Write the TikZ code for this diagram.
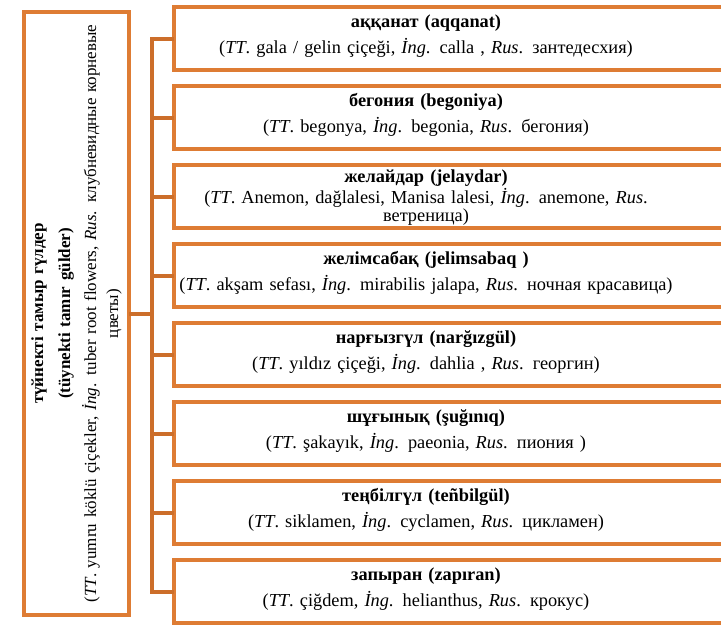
\documentclass[tikz,border=0pt]{standalone}
\usepackage{fontspec}
\setmainfont{Liberation Serif}
\usetikzlibrary{positioning}
\definecolor{frameorange}{RGB}{222,124,52}
\definecolor{linkorange}{RGB}{204,110,42}

\begin{document}
\begin{tikzpicture}[
    x=0.75pt, y=-0.75pt,
    node distance=12pt,
    rootbox/.style={rectangle, draw=frameorange, line width=3pt, rotate=90, minimum width=450.75pt, minimum height=78.75pt, text width=446pt, align=center, outer sep=0pt, font=\fontsize{12.75}{16.5}\selectfont},
    flower/.style={rectangle, draw=frameorange, line width=3pt, minimum width=450pt, minimum height=47.25pt, anchor=west, outer sep=0pt},
    entry/.style={text width=400pt, align=center, inner sep=0pt, font=\fontsize{13.75}{19.5}\selectfont},
    link/.style={draw=linkorange, line width=3pt},
]
\useasboundingbox (0,0) rectangle (721,628);
\clip (0,0) rectangle (721,628);

% Root: tuber root flowers
\node[rootbox] (root) at (76.5,313.5) {
    \textbf{түйнекті тамыр гүлдер}\\[3.75pt]
    \textbf{(tüynekti tamır gülder)}\\[3pt]
    (\textit{TT}. yumru köklü çiçekler, \textit{İng}. tuber root flowers, \textit{Rus}. клубневидные корневые\\цветы)
};

% Frames of the flowers
\node[flower] (b1) at (174,38.5) {};
\node[flower, below=of b1] (b2) {};
\node[flower, below=of b2] (b3) {};
\node[flower, below=of b3] (b4) {};
\node[flower, below=of b4] (b5) {};
\node[flower, below=of b5] (b6) {};
\node[flower, below=of b6] (b7) {};
\node[flower, below=of b7] (b8) {};

% Names of the flowers
\node[entry] (t1) at ([xshift=189pt, yshift=2pt]b1.west) {\textbf{аққанат (aqqanat)}\\(\textit{TT}. gala / gelin çiçeği, \textit{İng}. calla , \textit{Rus}. зантедесхия)};
\node[entry] (t2) at ([xshift=189pt, yshift=2pt]b2.west) {\textbf{бегония (begoniya)}\\(\textit{TT}. begonya, \textit{İng}. begonia, \textit{Rus}. бегония)};
\node[entry, font=\fontsize{13.75}{14}\selectfont] (t3) at ([xshift=189pt, yshift=-1pt]b3.west) {\textbf{желайдар (jelaydar)}\\(\textit{TT}. Anemon, dağlalesi, Manisa lalesi, \textit{İng}. anemone, \textit{Rus}.\\ветреница)};
\node[entry] (t4) at ([xshift=189pt, yshift=2pt]b4.west) {\textbf{желімсабақ (jelimsabaq )}\\(\textit{TT}. akşam sefası, \textit{İng}. mirabilis jalapa, \textit{Rus}. ночная красавица)};
\node[entry] (t5) at ([xshift=189pt, yshift=2pt]b5.west) {\textbf{нарғызгүл (narğızgül)}\\(\textit{TT}. yıldız çiçeği, \textit{İng}. dahlia , \textit{Rus}. георгин)};
\node[entry] (t6) at ([xshift=189pt, yshift=2pt]b6.west) {\textbf{шұғынық (şuğınıq)}\\(\textit{TT}. şakayık, \textit{İng}. paeonia, \textit{Rus}. пиония )};
\node[entry] (t7) at ([xshift=189pt, yshift=2pt]b7.west) {\textbf{теңбілгүл (teñbilgül)}\\(\textit{TT}. siklamen, \textit{İng}. cyclamen, \textit{Rus}. цикламен)};
\node[entry] (t8) at ([xshift=189pt, yshift=2pt]b8.west) {\textbf{запыран (zapıran)}\\(\textit{TT}. çiğdem, \textit{İng}. helianthus, \textit{Rus}. крокус)};

% Connectors
\coordinate (hub) at (152,313.5);
\draw[link] (root.south) -- (hub);
\draw[link] (b1.west) -- (hub |- b1.west) -- (hub |- b8.west) -- (b8.west);
\draw[link] (hub |- b2.west) -- (b2.west);
\draw[link] (hub |- b3.west) -- (b3.west);
\draw[link] (hub |- b4.west) -- (b4.west);
\draw[link] (hub |- b5.west) -- (b5.west);
\draw[link] (hub |- b6.west) -- (b6.west);
\draw[link] (hub |- b7.west) -- (b7.west);

\end{tikzpicture}
\end{document}
